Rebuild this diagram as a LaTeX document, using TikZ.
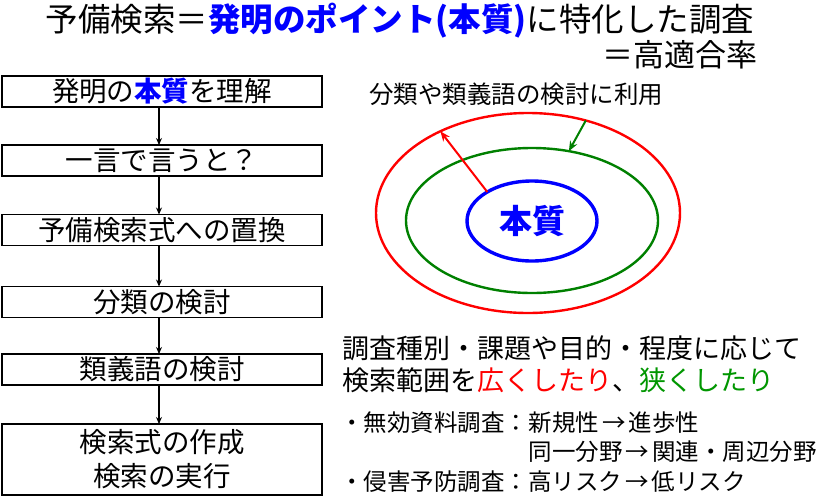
\documentclass[tikz,border=0pt]{standalone}
\usepackage{fontspec}
\setmainfont{Noto Sans CJK JP}
\usetikzlibrary{arrows.meta,shapes.geometric}
\definecolor{tblue}{RGB}{0,0,255}
\definecolor{tred}{RGB}{255,0,0}
\definecolor{tgreen}{RGB}{0,128,0}
\definecolor{tgreentext}{RGB}{0,150,0}
\newcommand{\myarrow}{\kern3pt→\kern3pt}
\tikzset{
  stepbox/.style={draw=black,line width=1.6pt,minimum width=320pt,minimum height=31pt,inner sep=0pt,outer sep=0pt,font=\fontsize{27.5}{32}\selectfont},
  flow/.style={line width=1.3pt,-{Stealth[length=7pt,width=6pt]}},
  ring/.style={ellipse,inner sep=0pt,outer sep=0pt,line width=2.4pt},
  bigtext/.style={font=\fontsize{27}{32}\selectfont,inner sep=0pt,anchor=west},
  smalltext/.style={font=\fontsize{23.5}{28}\selectfont,inner sep=0pt,anchor=west},
}
\begin{document}
\begin{tikzpicture}[x=1pt,y=-1pt]
\useasboundingbox (0,0) rectangle (836,499);
% title
\node[inner sep=0pt,font=\fontsize{32.5}{36}\selectfont] (title) at (400,21)
  {予備検索＝{\bfseries\color{tblue}発明のポイント(本質)}に特化した調査};
\node[inner sep=0pt,anchor=east,font=\fontsize{31}{36}\selectfont] (title2) at (758,55) {＝高適合率};
% flow boxes
\node[stepbox] (s1) at (162,91.5) {\raisebox{-2pt}{発明の{\bfseries\color{tblue}本質}を理解}};
\node[stepbox] (s2) at (162,160.5) {\raisebox{-2pt}{一言で言うと？}};
\node[stepbox] (s3) at (162,230) {\raisebox{-2pt}{予備検索式への置換}};
\node[stepbox] (s4) at (162,302) {\raisebox{-2pt}{分類の検討}};
\node[stepbox] (s5) at (162,369.5) {\raisebox{-2pt}{類義語の検討}};
\node[stepbox,minimum height=71pt,align=center] (s6) at (162,459.5) {検索式の作成\\[2pt]検索の実行};
\draw[flow] (s1.south -| 159,0) -- (s2.north -| 159,0);
\draw[flow] (s2.south -| 159,0) -- (s3.north -| 159,0);
\draw[flow] (s3.south -| 159,0) -- (s4.north -| 159,0);
\draw[flow] (s4.south -| 159,0) -- (s5.north -| 159,0);
\draw[flow] (s5.south -| 159,0) -- (s6.north -| 159,0);
% ellipses
\node[inner sep=0pt,anchor=west,font=\fontsize{24.5}{28}\selectfont] (use) at (369,94) {分類や類義語の検討に利用};
\node[ring,draw=tred,minimum width=304pt,minimum height=200pt] (red) at (528,213) {};
\node[ring,draw=tgreen,minimum width=252pt,minimum height=145pt] (green) at (532,220.5) {};
\node[ring,draw=tblue,line width=3.4pt,minimum width=130pt,minimum height=80pt,text=tblue,font=\fontsize{33}{38}\selectfont\bfseries] (core) at (532,221) {本質};
\draw[tred,line width=2pt,-{Stealth[length=10pt,width=8pt]}] (core.147) -- (red.137);
\draw[tgreen,line width=2pt,-{Stealth[length=10pt,width=8pt]}] (red.58) -- (green.62);
% right text
\node[bigtext] (t1) at (342,348) {調査種別・課題や目的・程度に応じて};
\node[bigtext] (t2) at (342,380) {検索範囲を{\color{tred}広くしたり}、{\color{tgreentext}狭くしたり}};
\node[smalltext] (b1a) at (340,423) {・無効資料調査：};
\node[smalltext] (b1b) at (b1a.east) {新規性\myarrow 進歩性};
\node[smalltext] (b1c) at (b1b.west |- 0,452) {同一分野\myarrow 関連・周辺分野};
\node[smalltext] (b2) at (340,482) {・侵害予防調査：高リスク\myarrow 低リスク};
\end{tikzpicture}
\end{document}
